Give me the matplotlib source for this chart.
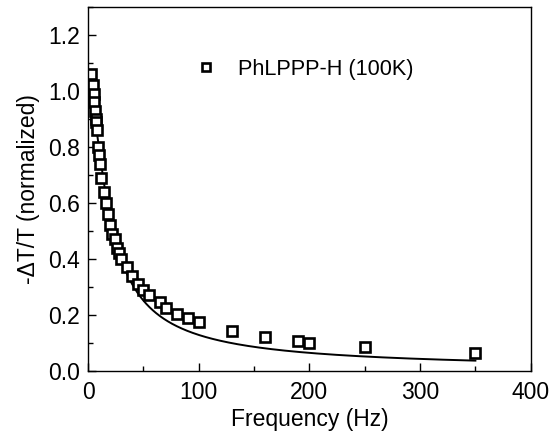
import numpy as np
import matplotlib
matplotlib.use("Agg")
import matplotlib.pyplot as plt
from matplotlib.ticker import MultipleLocator, FormatStrFormatter

plt.rcParams['font.family'] = ['Liberation Sans', 'DejaVu Sans']

# Measured modulation-frequency dependence (normalized signal)
freq_hz = [3, 4, 5, 5.5, 6, 7, 7.5, 8, 9, 10, 11, 12, 14, 16, 18, 20, 22, 24, 26,
           28, 30, 35, 40, 45, 50, 55, 65, 70, 80, 90, 100, 130, 160, 190, 200,
           250, 350]
signal = [1.06, 1.02, 0.99, 0.96, 0.93, 0.90, 0.89, 0.86, 0.80, 0.77, 0.74, 0.69,
          0.64, 0.60, 0.56, 0.52, 0.49, 0.47, 0.44, 0.42, 0.40, 0.37, 0.34, 0.31,
          0.29, 0.27, 0.245, 0.225, 0.205, 0.19, 0.175, 0.143, 0.121, 0.107, 0.10,
          0.086, 0.064]

# Single-lifetime model: S(f) = A / sqrt(1 + (f/f0)^2)
fit_amp = 1.0
fit_f0 = 13.0
fit_range = (1.5, 350)

legend_label = 'PhLPPP-H (100K)'

fig = plt.figure(figsize=(5.54, 4.36), dpi=100)
ax = fig.add_axes([0.159, 0.149, 0.799, 0.835])

f_fit = np.linspace(fit_range[0], fit_range[1], 600)
s_fit = fit_amp / np.sqrt(1 + (f_fit / fit_f0) ** 2)
ax.plot(f_fit, s_fit, color='black', lw=1.4)

ax.plot(freq_hz, signal, linestyle='none', marker='s', markersize=7,
        markerfacecolor='white', markeredgecolor='black', markeredgewidth=1.9,
        label=legend_label)

ax.set_xlim(0, 400)
ax.set_ylim(0, 1.3)
ax.xaxis.set_major_locator(MultipleLocator(100))
ax.xaxis.set_minor_locator(MultipleLocator(50))
ax.yaxis.set_major_locator(MultipleLocator(0.2))
ax.yaxis.set_minor_locator(MultipleLocator(0.1))
ax.yaxis.set_major_formatter(FormatStrFormatter('%.1f'))

ax.tick_params(which='both', direction='in', top=False, right=False,
               labelsize=16.5, width=1.0)
ax.tick_params(axis='x', which='major', length=6, pad=7)
ax.tick_params(axis='y', which='major', length=6, pad=6)
ax.tick_params(which='minor', length=3.5)
for sp in ax.spines.values():
    sp.set_linewidth(1.0)

ax.set_xlabel('Frequency (Hz)', fontsize=16.5, labelpad=3)
ax.set_ylabel('-\u0394T/T (normalized)', fontsize=16.5, labelpad=6)

ax.legend(loc='upper left', bbox_to_anchor=(0.192, 0.912), frameon=False,
          fontsize=15.6, handlelength=1.2, handletextpad=0.9, numpoints=1,
          markerscale=0.9)

fig.savefig('out.png', dpi=100)
